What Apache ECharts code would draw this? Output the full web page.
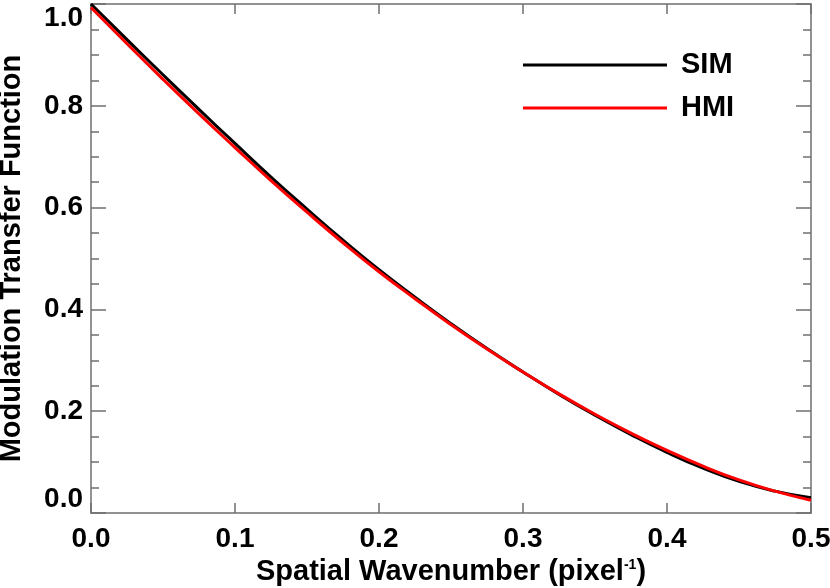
<!DOCTYPE html>
<html>
<head>
<meta charset="utf-8">
<script src="https://cdn.jsdelivr.net/npm/echarts@6/dist/echarts.min.js"></script>
<style>
html,body{margin:0;padding:0;background:#fff;}
#chart{width:830px;height:588px;}
</style>
</head>
<body>
<div id="chart"></div>
<script>
const xValues = [0, 0.025, 0.05, 0.075, 0.1, 0.125, 0.15, 0.175, 0.2, 0.225, 0.25, 0.275, 0.3, 0.325, 0.35, 0.375, 0.4, 0.425, 0.45, 0.475, 0.5];
const simValues = [1.000, 0.930, 0.861, 0.793, 0.726, 0.660, 0.597, 0.536, 0.478, 0.424, 0.372, 0.323, 0.277, 0.233, 0.192, 0.154, 0.119, 0.088, 0.062, 0.043, 0.030];
const hmiValues = [0.993, 0.922, 0.852, 0.784, 0.718, 0.653, 0.591, 0.531, 0.474, 0.421, 0.370, 0.322, 0.277, 0.234, 0.194, 0.157, 0.123, 0.092, 0.065, 0.043, 0.025];
const seriesNames = ['SIM', 'HMI'];
const xTitle = 'Spatial Wavenumber (pixel{sup|-1})';
const yTitle = 'Modulation Transfer Function';

const font = '"Liberation Sans", Arial, Helvetica, sans-serif';
const axisGray = '#6f6f6f';
const zip = (xs, ys) => xs.map((x, i) => [x, ys[i]]);

const chart = echarts.init(document.getElementById('chart'));
chart.setOption({
  animation: false,
  backgroundColor: '#fff',
  grid: { left: 91, right: 19, top: 4, bottom: 75, containLabel: false, outerBoundsMode: 'none' },
  legend: {
    left: 523, top: 50, padding: 0, orient: 'vertical', itemWidth: 144, itemHeight: 3, itemGap: 13,
    icon: 'rect',
    textStyle: { fontFamily: font, fontWeight: 'bold', fontSize: 29, color: '#000', lineHeight: 30, padding: [0, 0, 0, 9] },
    data: seriesNames
  },
  xAxis: [{
    type: 'value', min: 0, max: 0.5, interval: 0.1, position: 'bottom',
    axisLine: { show: true, onZero: false, lineStyle: { color: axisGray, width: 1.5 } },
    axisTick: { show: true, inside: true, length: 10, lineStyle: { color: axisGray, width: 1.5 } },
    splitLine: { show: false },
    axisLabel: { fontFamily: font, fontWeight: 'bold', fontSize: 28, color: '#000', margin: 12,
      formatter: v => v.toFixed(1) },
    name: xTitle, nameLocation: 'middle', nameGap: 20,
    nameTextStyle: { fontFamily: font, fontWeight: 'bold', fontSize: 29, color: '#000',
      rich: { sup: { fontFamily: font, fontWeight: 'bold', fontSize: 14, color: '#000', verticalAlign: 'top', lineHeight: 15 } } }
  }, {
    type: 'value', min: 0, max: 0.5, interval: 0.1, position: 'top',
    axisLine: { show: true, onZero: false, lineStyle: { color: axisGray, width: 1.5 } },
    axisTick: { show: true, inside: true, length: 10, lineStyle: { color: axisGray, width: 1.5 } },
    splitLine: { show: false }, axisLabel: { show: false }
  }],
  yAxis: [{
    type: 'value', min: 0, max: 1, interval: 0.2, position: 'left',
    axisLine: { show: true, onZero: false, lineStyle: { color: axisGray, width: 1.5 } },
    axisTick: { show: true, inside: true, length: 15, lineStyle: { color: axisGray, width: 1.5 } },
    minorTick: { show: true, splitNumber: 4, length: 8, lineStyle: { color: axisGray, width: 1.5 } },
    splitLine: { show: false }, minorSplitLine: { show: false },
    axisLabel: { fontFamily: font, fontWeight: 'bold', fontSize: 28, color: '#000', margin: 8,
      verticalAlignMinLabel: 'bottom', verticalAlignMaxLabel: 'top',
      formatter: v => v.toFixed(1) },
    name: yTitle, nameLocation: 'middle', nameGap: 65,
    nameTextStyle: { fontFamily: font, fontWeight: 'bold', fontSize: 29, color: '#000' }
  }, {
    type: 'value', min: 0, max: 1, interval: 0.2, position: 'right',
    axisLine: { show: true, onZero: false, lineStyle: { color: axisGray, width: 1.5 } },
    axisTick: { show: true, inside: true, length: 15, lineStyle: { color: axisGray, width: 1.5 } },
    minorTick: { show: true, splitNumber: 4, length: 8, lineStyle: { color: axisGray, width: 1.5 } },
    splitLine: { show: false }, minorSplitLine: { show: false }, axisLabel: { show: false }
  }],
  series: [{
    name: seriesNames[0], type: 'line', xAxisIndex: 0, yAxisIndex: 0,
    data: zip(xValues, simValues), smooth: true, showSymbol: false,
    lineStyle: { color: '#000', width: 3 }, itemStyle: { color: '#000' }, z: 3
  }, {
    name: seriesNames[1], type: 'line', xAxisIndex: 0, yAxisIndex: 0,
    data: zip(xValues, hmiValues), smooth: true, showSymbol: false,
    lineStyle: { color: '#ff0000', width: 3 }, itemStyle: { color: '#ff0000' }, z: 4
  }]
});
</script>
</body>
</html>
